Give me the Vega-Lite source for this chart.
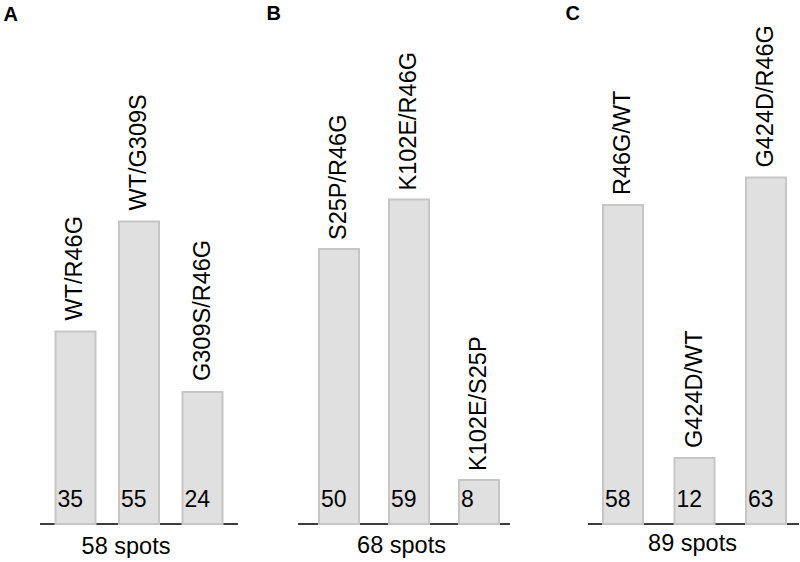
{
  "$schema": "https://vega.github.io/schema/vega-lite/v6.json",
  "padding": {"left": 3, "top": 3, "right": 0, "bottom": 0},
  "config": {
    "view": {"stroke": null},
    "font": "Liberation Sans",
    "axis": {"grid": false, "labels": false, "ticks": false, "domain": false}
  },
  "data": {
    "values": [
      {"panel": "A", "pair": "WT/R46G", "count": 35},
      {"panel": "A", "pair": "WT/G309S", "count": 55},
      {"panel": "A", "pair": "G309S/R46G", "count": 24},
      {"panel": "B", "pair": "S25P/R46G", "count": 50},
      {"panel": "B", "pair": "K102E/R46G", "count": 59},
      {"panel": "B", "pair": "K102E/S25P", "count": 8},
      {"panel": "C", "pair": "R46G/WT", "count": 58},
      {"panel": "C", "pair": "G424D/WT", "count": 12},
      {"panel": "C", "pair": "G424D/R46G", "count": 63}
    ]
  },
  "spacing": 27,
  "hconcat": [
    {
      "width": 198,
      "height": 495,
      "transform": [{"filter": "datum.panel === 'A'"}],
      "layer": [
        {"mark": {"type": "rule", "color": "#222222", "strokeWidth": 1}, "encoding": {"y": {"datum": 0, "type": "quantitative"}}},
        {
          "mark": {"type": "bar", "fill": "#e0e0e0", "stroke": "#c6c6c6", "strokeWidth": 2},
          "encoding": {
            "x": {"field": "pair", "type": "nominal", "sort": null,
              "scale": {"paddingInner": 0.37, "paddingOuter": 0.244, "align": 0.5},
              "axis": {"title": "58 spots", "titleX": 85.5, "titleY": 29, "titleAlign": "center", "titleBaseline": "alphabetic", "titleFontSize": 23.5, "titleFontWeight": "normal", "titleColor": "#000000"}},
            "y": {"field": "count", "type": "quantitative", "scale": {"domain": [0, 90], "nice": false},
              "axis": {"title": "A", "titleAngle": 0, "titleX": -37, "titleY": -8.5, "titleAlign": "left", "titleBaseline": "alphabetic", "titleFontSize": 20, "titleFontWeight": "bold", "titleColor": "#000000", "minExtent": 0}}
          }
        },
        {
          "mark": {"type": "text", "angle": 270, "align": "left", "baseline": "middle", "fontSize": 23.5, "color": "#000000", "yOffset": -11},
          "encoding": {
            "x": {"field": "pair", "type": "nominal", "sort": null},
            "y": {"field": "count", "type": "quantitative"},
            "text": {"field": "pair"}
          }
        },
        {
          "mark": {"type": "text", "align": "left", "baseline": "alphabetic", "fontSize": 23, "color": "#000000", "dx": 2, "yOffset": -17},
          "encoding": {
            "x": {"field": "pair", "type": "nominal", "sort": null, "bandPosition": 0},
            "y": {"datum": 0, "type": "quantitative"},
            "text": {"field": "count"}
          }
        }
      ]
    },
    {
      "width": 212,
      "height": 495,
      "transform": [{"filter": "datum.panel === 'B'"}],
      "layer": [
        {"mark": {"type": "rule", "color": "#222222", "strokeWidth": 1}, "encoding": {"y": {"datum": 0, "type": "quantitative"}}},
        {
          "mark": {"type": "bar", "fill": "#e0e0e0", "stroke": "#c6c6c6", "strokeWidth": 2},
          "encoding": {
            "x": {"field": "pair", "type": "nominal", "sort": null,
              "scale": {"paddingInner": 0.4286, "paddingOuter": 0.2286, "align": 0.656},
              "axis": {"title": "68 spots", "titleX": 103, "titleY": 28, "titleAlign": "center", "titleBaseline": "alphabetic", "titleFontSize": 23.5, "titleFontWeight": "normal", "titleColor": "#000000"}},
            "y": {"field": "count", "type": "quantitative", "scale": {"domain": [0, 90], "nice": false},
              "axis": {"title": "B", "titleAngle": 0, "titleX": -32, "titleY": -9.5, "titleAlign": "left", "titleBaseline": "alphabetic", "titleFontSize": 20, "titleFontWeight": "bold", "titleColor": "#000000", "minExtent": 0}}
          }
        },
        {
          "mark": {"type": "text", "angle": 270, "align": "left", "baseline": "middle", "fontSize": 23.5, "color": "#000000", "yOffset": -9},
          "encoding": {
            "x": {"field": "pair", "type": "nominal", "sort": null},
            "y": {"field": "count", "type": "quantitative"},
            "text": {"field": "pair"}
          }
        },
        {
          "mark": {"type": "text", "align": "left", "baseline": "alphabetic", "fontSize": 23, "color": "#000000", "dx": 2, "yOffset": -17},
          "encoding": {
            "x": {"field": "pair", "type": "nominal", "sort": null, "bandPosition": 0},
            "y": {"datum": 0, "type": "quantitative"},
            "text": {"field": "count"}
          }
        }
      ]
    },
    {
      "width": 211,
      "height": 495,
      "transform": [{"filter": "datum.panel === 'C'"}],
      "layer": [
        {"mark": {"type": "rule", "color": "#222222", "strokeWidth": 1}, "encoding": {"y": {"datum": 0, "type": "quantitative"}}},
        {
          "mark": {"type": "bar", "fill": "#e0e0e0", "stroke": "#c6c6c6", "strokeWidth": 2},
          "encoding": {
            "x": {"field": "pair", "type": "nominal", "sort": null,
              "scale": {"paddingInner": 0.4406, "paddingOuter": 0.196, "align": 0.536},
              "axis": {"title": "89 spots", "titleX": 104, "titleY": 26, "titleAlign": "center", "titleBaseline": "alphabetic", "titleFontSize": 23.5, "titleFontWeight": "normal", "titleColor": "#000000"}},
            "y": {"field": "count", "type": "quantitative", "scale": {"domain": [0, 90], "nice": false},
              "axis": {"title": "C", "titleAngle": 0, "titleX": -23, "titleY": -9.5, "titleAlign": "left", "titleBaseline": "alphabetic", "titleFontSize": 20, "titleFontWeight": "bold", "titleColor": "#000000", "minExtent": 50}}
          }
        },
        {
          "mark": {"type": "text", "angle": 270, "align": "left", "baseline": "middle", "fontSize": 23.5, "color": "#000000", "yOffset": -10},
          "encoding": {
            "x": {"field": "pair", "type": "nominal", "sort": null},
            "y": {"field": "count", "type": "quantitative"},
            "text": {"field": "pair"}
          }
        },
        {
          "mark": {"type": "text", "align": "left", "baseline": "alphabetic", "fontSize": 23, "color": "#000000", "dx": 2, "yOffset": -17},
          "encoding": {
            "x": {"field": "pair", "type": "nominal", "sort": null, "bandPosition": 0},
            "y": {"datum": 0, "type": "quantitative"},
            "text": {"field": "count"}
          }
        }
      ]
    }
  ]
}
